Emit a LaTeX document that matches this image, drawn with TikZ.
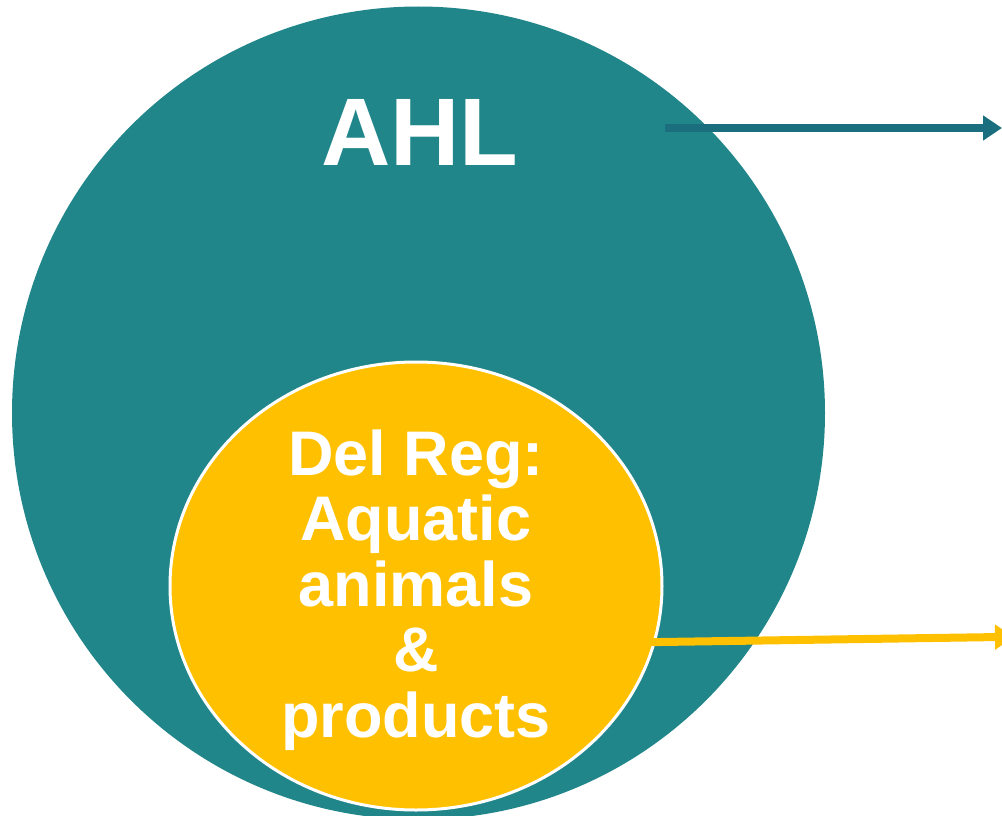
\documentclass[tikz,border=0pt]{standalone}
\usepackage{fontspec}
\setmainfont{Liberation Sans}
\usetikzlibrary{arrows.meta,shapes.geometric}
\definecolor{tealc}{HTML}{20868A}
\definecolor{tealarrow}{HTML}{1A6E7E}
\definecolor{goldc}{HTML}{FFC000}
\tikzset{
  bigcircle/.style={circle, fill=tealc, inner sep=0pt, minimum size=813pt},
  innerellipse/.style={ellipse, fill=goldc, draw=white, line width=3pt, inner sep=0pt, minimum width=492pt, minimum height=448pt},
  label/.style={text=white, font=\bfseries, inner sep=0pt, align=center},
  arrowline/.style={line width=8pt, -{Triangle[length=19pt,width=24pt]}}
}
\begin{document}
\begin{tikzpicture}[x=1pt,y=-1pt]
\useasboundingbox (0,0) rectangle (1002,816);
\clip (0,0) rectangle (1002,816);
\node[bigcircle] (ahl) at (418.5,413) {};
\node[label, font=\bfseries\fontsize{96}{100}\selectfont, anchor=base] (ahltext) at (420,165) {AHL};
\node[innerellipse] (dr) at (416,586) {};
\node[label, font=\bfseries\fontsize{63}{65.5}\selectfont] (drtext) at (416,590) {Del Reg:\\Aquatic\\animals\\\&\\products};
\coordinate (a1s) at (665,128);
\coordinate (a1e) at (1002,128);
\coordinate (a2s) at (640,642.3);
\coordinate (a2e) at (1014,636.8);
\draw[arrowline, tealarrow] (a1s) -- (a1e);
\draw[arrowline, goldc] (a2s) -- (a2e);
\end{tikzpicture}
\end{document}
